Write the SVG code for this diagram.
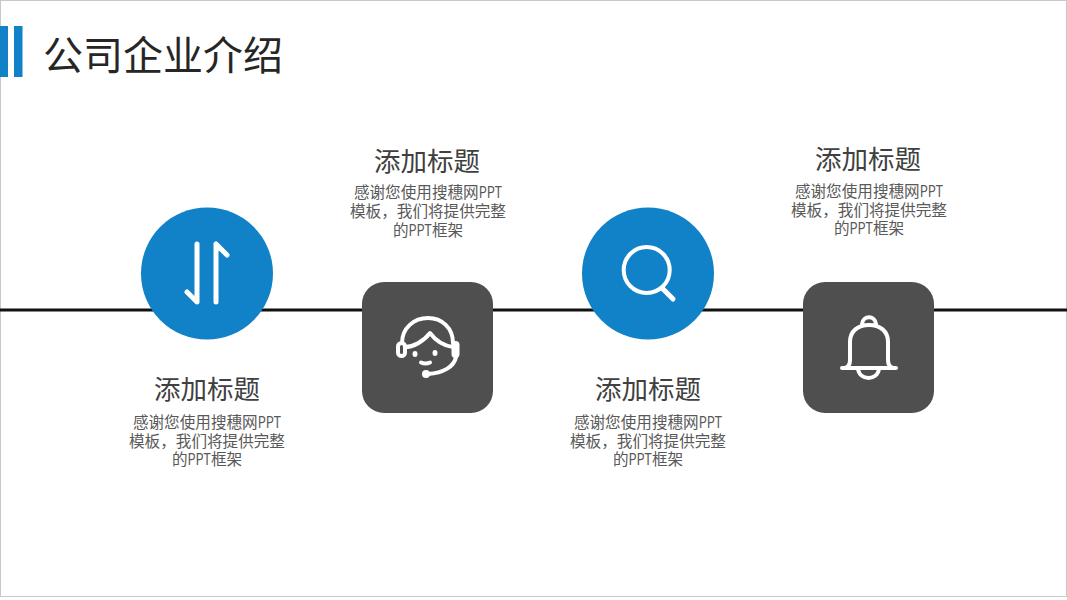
<svg xmlns="http://www.w3.org/2000/svg" width="1067" height="600" viewBox="0 0 1067 600">
<style>
text{font-family:"Noto Sans CJK SC","Noto Sans",sans-serif;text-anchor:middle}
.h{font-size:26.5px;fill:#404040}
.b{font-size:15.6px;fill:#595959}
.blue{fill:#1282c8}
.dark{fill:#4f4f4f}
.ic{fill:none;stroke:#fff;stroke-width:4;stroke-linecap:round;stroke-linejoin:round}
</style>
<rect x="0.5" y="0.5" width="1066" height="596" fill="#fff" stroke="#c8c8c8"/>
<g id="title">
<rect x="0" y="26" width="8" height="51" class="blue"/>
<rect x="14" y="26" width="8.500" height="51" class="blue"/>
<text x="163" y="70" style="font-size:40px;fill:#262626">公司企业介绍</text>
</g>
<g id="connectors"><line x1="0" y1="310" x2="1067" y2="310" stroke="#111" stroke-width="3"/></g>
<g id="node1">
<circle cx="207" cy="273.500" r="66" class="blue"/>
<path class="ic" style="stroke-width:5" d="M197 244V302L187 292M216 244V302M216 244L227 255"/>
<text class="h" x="207" y="399">添加标题</text>
<text class="b" x="207" y="428">感谢您使用搜穗网<tspan textLength="23.400" lengthAdjust="spacingAndGlyphs">PPT</tspan></text>
<text class="b" x="207" y="447">模板，我们将提供完整</text>
<text class="b" x="207" y="465">的<tspan textLength="23.400" lengthAdjust="spacingAndGlyphs">PPT</tspan>框架</text>
</g>
<g id="node2">
<rect x="362" y="282" width="131" height="131" rx="22" class="dark"/>
<path class="ic" d="M402 343C402 328 414 318 428 318C442 318 453 328 453 343M405 347C413 347 423 342 430 333C436 341 445 346 453 347M456 357C454 367 443 373 428 374"/>
<rect x="398" y="343" width="7" height="13" rx="3.500" class="ic"/>
<rect x="453.500" y="343" width="4" height="13" rx="2" class="ic"/>
<ellipse cx="415" cy="354" rx="2.500" ry="3" fill="#fff"/><ellipse cx="435" cy="353" rx="2.500" ry="3" fill="#fff"/>
<path class="ic" d="M421 362.500Q425.500 364.500 430 362.500"/>
<circle cx="426" cy="374" r="4" fill="#fff"/>
<text class="h" x="427" y="171">添加标题</text>
<text class="b" x="428" y="198">感谢您使用搜穗网<tspan textLength="23.400" lengthAdjust="spacingAndGlyphs">PPT</tspan></text>
<text class="b" x="428" y="217">模板，我们将提供完整</text>
<text class="b" x="428" y="236">的<tspan textLength="23.400" lengthAdjust="spacingAndGlyphs">PPT</tspan>框架</text>
</g>
<g id="node3">
<circle cx="648" cy="273.500" r="66" class="blue"/>
<circle cx="646.700" cy="270" r="23" class="ic"/>
<path class="ic" style="stroke-width:5" d="M662 288L673 299"/>
<text class="h" x="648" y="399">添加标题</text>
<text class="b" x="648" y="428">感谢您使用搜穗网<tspan textLength="23.400" lengthAdjust="spacingAndGlyphs">PPT</tspan></text>
<text class="b" x="648" y="447">模板，我们将提供完整</text>
<text class="b" x="648" y="465">的<tspan textLength="23.400" lengthAdjust="spacingAndGlyphs">PPT</tspan>框架</text>
</g>
<g id="node4">
<rect x="803" y="282" width="131" height="131" rx="22" class="dark"/>
<path class="ic" d="M842 368H896M845 368C849 367 850 364 850 360V342C850 331 858 325 869 325C880 325 888 331 888 342V360C888 364 889 367 893 368M858 369C860 381 877 381 879 369M862 324C863 315 875 315 876 324"/>
<text class="h" x="868" y="169">添加标题</text>
<text class="b" x="869" y="197">感谢您使用搜穗网<tspan textLength="23.400" lengthAdjust="spacingAndGlyphs">PPT</tspan></text>
<text class="b" x="869" y="216">模板，我们将提供完整</text>
<text class="b" x="869" y="234">的<tspan textLength="23.400" lengthAdjust="spacingAndGlyphs">PPT</tspan>框架</text>
</g>
</svg>
